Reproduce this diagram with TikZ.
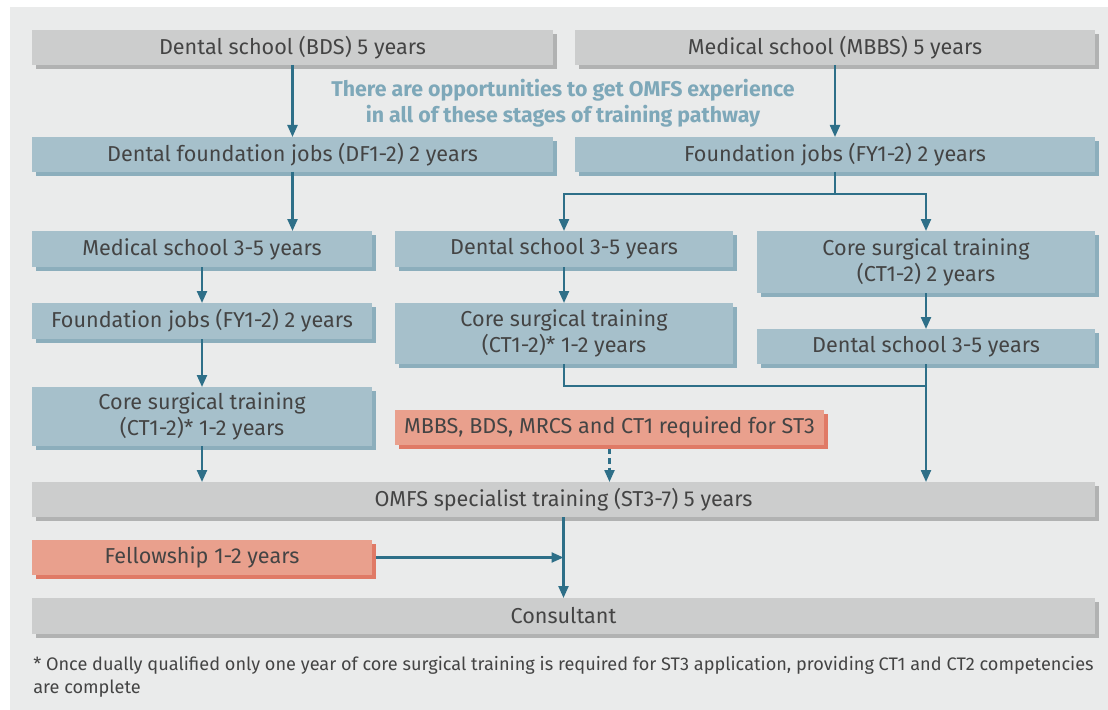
\documentclass[tikz,border=0pt]{standalone}
\usepackage{fontspec}
\setmainfont{Fira Sans}
\usetikzlibrary{shadows,arrows.meta}
\definecolor{bg}{HTML}{EAEBEB}
\definecolor{gfill}{HTML}{CCCDCD}
\definecolor{gshad}{HTML}{B1B2B2}
\definecolor{bfill}{HTML}{A6C0CB}
\definecolor{bshad}{HTML}{8CAEBC}
\definecolor{rfill}{HTML}{E9A08D}
\definecolor{rshad}{HTML}{E07A66}
\definecolor{arr}{HTML}{2E6F88}
\definecolor{headc}{HTML}{7EA8B9}
\definecolor{txt}{HTML}{444444}
\newcommand\bx[7]{%
  \pgfmathsetmacro\myBW{(#4-#2)*0.75}%
  \pgfmathsetmacro\myBH{(#5-#3)*0.75}%
  \node[#6, minimum width=\myBW pt, minimum height=\myBH pt] (#1) at ({(#2+#4)/2},{(#3+#5)/2}) {#7};}
\tikzset{
  box/.style={inner sep=0pt, outer sep=0pt, align=center, text=txt,
    font=\fontsize{16.2}{19.5}\selectfont},
  gbox/.style={box, fill=gfill, drop shadow={shadow xshift=3pt, shadow yshift=-3pt, fill=gshad, opacity=1}},
  bbox/.style={box, fill=bfill, drop shadow={shadow xshift=3pt, shadow yshift=-3pt, fill=bshad, opacity=1}},
  rbox/.style={box, fill=rfill, drop shadow={shadow xshift=3pt, shadow yshift=-3pt, fill=rshad, opacity=1}},
  conn/.style={draw=arr, line width=1.7pt},
  arrow/.style={conn, -{Triangle[length=9pt, width=7.5pt]}},
  dasharrow/.style={arrow, dash pattern=on 4pt off 3pt},
}
\begin{document}
\begin{tikzpicture}[x=0.75pt, y=-0.75pt]
\useasboundingbox (0,0) rectangle (1108,710);
\fill[white] (0,0) rectangle (1108,710);
\fill[bg] (10,7) rectangle (1108,710);

\bx{bds}{32}{30}{553}{65}{gbox}{Dental school (BDS) 5 years}
\bx{mbbs}{575}{30}{1095}{65}{gbox}{Medical school (MBBS) 5 years}
\bx{df}{32}{137}{553}{172}{bbox}{Dental foundation jobs (DF1-2) 2 years}
\bx{fy}{575}{137}{1095}{172}{bbox}{Foundation jobs (FY1-2) 2 years}
\bx{med35}{32}{231}{372}{267}{bbox}{Medical school 3-5 years}
\bx{den35}{395}{231}{733}{267}{bbox}{Dental school 3-5 years}
\bx{cst}{757}{231}{1095}{293}{bbox}{Core surgical training\\(CT1-2) 2 years}
\bx{fyl}{32}{303}{372}{339}{bbox}{Foundation jobs (FY1-2) 2 years}
\bx{cstm}{395}{303}{733}{364}{bbox}{Core surgical training\\(CT1-2)* 1-2 years}
\bx{den35r}{757}{329}{1095}{364}{bbox}{Dental school 3-5 years}
\bx{cstl}{32}{387}{372}{446}{bbox}{Core surgical training\\(CT1-2)* 1-2 years}
\bx{req}{395}{410}{824}{445}{rbox}{MBBS, BDS, MRCS and CT1 required for ST3}
\bx{omfs}{32}{482}{1095}{517}{gbox}{OMFS specialist training (ST3-7) 5 years}
\bx{fel}{32}{540}{372}{575}{rbox}{Fellowship 1-2 years}
\bx{cons}{32}{598}{1095}{634}{gbox}{Consultant}

\node[align=center, text=headc, font=\bfseries\fontsize{16}{19.5}\selectfont] (note) at (563,103)
  {There are opportunities to get OMFS experience\\in all of these stages of training pathway};

\node[anchor=north west, align=left, inner sep=0pt, text=txt, font=\fontsize{13.6}{17.5}\selectfont] (foot) at (33,656)
  {* Once dually qualified only one year of core surgical training is required for ST3 application, providing CT1 and CT2 competencies\\are complete};

\draw[arrow] (bds.south) -- (df.north);
\draw[arrow] (mbbs.south) -- (fy.north);
\draw[arrow] (df.south) -- (df.south |- med35.north);
\coordinate (split) at (835,194);
\draw[conn] (fy.south) -- (split);
\draw[arrow] (split) -| (den35.north);
\draw[arrow] (split) -| (cst.north);
\draw[arrow] (med35.south) -- (fyl.north);
\draw[arrow] (den35.south) -- (cstm.north);
\draw[arrow] (cst.south) -- (den35r.north);
\draw[arrow] (fyl.south) -- (cstl.north);
\draw[arrow] (cstl.south) -- (cstl.south |- omfs.north);
\coordinate (join) at (926,386);
\draw[conn] (cstm.south) |- (join);
\draw[arrow] (den35r.south) -- (den35r.south |- omfs.north);
\draw[dasharrow] ([yshift=-3pt]req.south) -- (req.south |- omfs.north);
\draw[arrow] (omfs.south) -- (cons.north);
\draw[arrow] ([xshift=3pt]fel.east) -- (fel.east -| omfs.south);
\end{tikzpicture}
\end{document}
